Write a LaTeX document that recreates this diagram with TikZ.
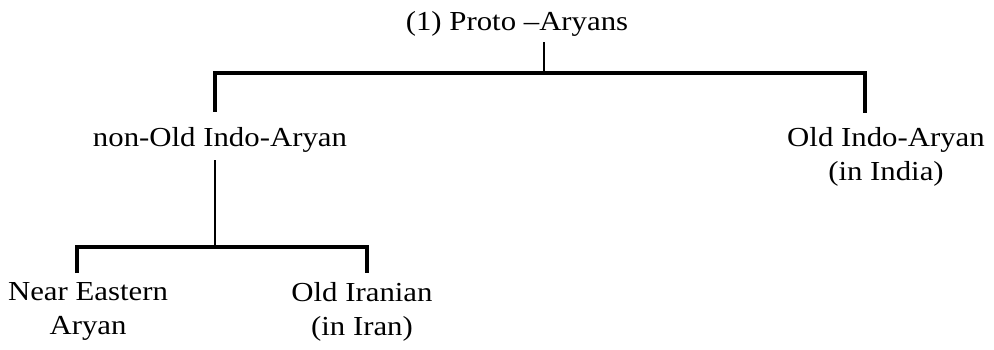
\documentclass[tikz,border=0pt]{standalone}
\usepackage{fontspec}
\setmainfont{Liberation Serif}[FakeStretch=1.12]
\tikzset{
  lang/.style={font=\fontsize{27.5}{34}\selectfont, align=center, inner sep=0pt},
  fork/.style={line width=3.4pt},
  stem/.style={line width=2pt}
}

\begin{document}
\begin{tikzpicture}[x=1pt, y=-1pt]
  \useasboundingbox (0,0) rectangle (994,350);
  \node[lang, anchor=base]  (root)   at (517,31)  {(1) Proto --Aryans};
  \node[lang, anchor=base]  (nonold) at (220,147) {non-Old Indo-Aryan};
  \node[lang, anchor=north] (oia)    at (886,127) {Old Indo-Aryan\\(in India)};
  \node[lang, anchor=north] (near)   at (88,282)  {Near Eastern\\Aryan};
  \node[lang, anchor=north] (oir)    at (362,282) {Old Iranian\\(in Iran)};
  % joints
  \coordinate (j0) at (544,73);
  \coordinate (l0) at (215,73);
  \coordinate (r0) at (865,73);
  \coordinate (j1) at (215,247);
  \coordinate (l1) at (77,247);
  \coordinate (r1) at (367,247);
  % stems
  \draw[stem, shorten <=5pt] (j0 |- root.south) -- (j0);
  \draw[stem, shorten <=7pt] (j1 |- nonold.south) -- (j1);
  % forks
  \draw[fork, shorten <=16pt, shorten >=14pt]
    (l0 |- nonold.north) -- (l0) -- (r0) -- (r0 |- oia.north);
  \draw[fork, shorten <=9pt, shorten >=9pt]
    (l1 |- near.north) -- (l1) -- (r1) -- (r1 |- oir.north);
\end{tikzpicture}
\end{document}
